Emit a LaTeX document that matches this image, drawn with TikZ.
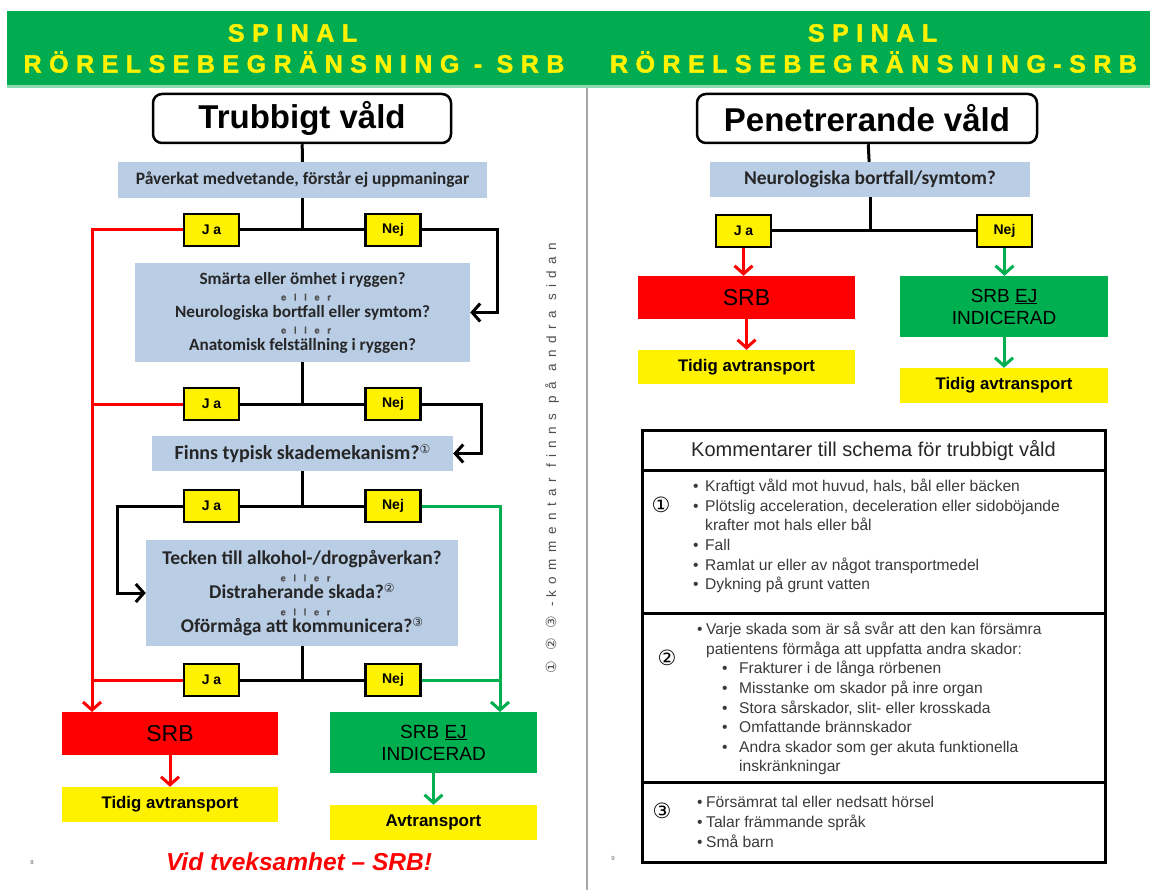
\documentclass[tikz,border=0pt]{standalone}
\usepackage{fontspec}
\setmainfont{Liberation Sans}
\newfontfamily\calf{Carlito}
\newfontfamily\djf{DejaVu Sans}
\newfontfamily\sidef[LetterSpace=48]{Liberation Sans}
\usetikzlibrary{arrows.meta}
\definecolor{hdrgreen}{HTML}{00AC4F}
\definecolor{okgreen}{HTML}{00B050}
\definecolor{qblue}{HTML}{B9CDE5}
\definecolor{txtgray}{HTML}{3A3A3A}
\definecolor{sepgray}{HTML}{A6A6A6}
\newcommand\hdrfont{\bfseries\addfontfeatures{LetterSpace=30,FakeBold=1.6}}
\newcommand\eller{{\fontspec{Liberation Sans}\bfseries\addfontfeatures{LetterSpace=80,FakeBold=0.8}\fontsize{9.5}{9.5}\selectfont\color{black!70}\hspace*{7pt}eller}}
\newcommand\bla{\makebox[12pt][l]{•}}
\newcommand\blb{\makebox[9pt][l]{•}}
\newcommand\blc{\hspace*{25pt}\makebox[17pt][l]{•}}
\begin{document}
\begin{tikzpicture}[x=1pt,y=-1pt,
  hdrtext/.style={text=yellow, inner sep=0pt, font=\fontsize{25}{28}\selectfont\hdrfont},
  qbox/.style={fill=qblue, inner sep=0pt, align=center, text=black!85},
  yn/.style={fill=yellow, draw=black, line width=2.5pt, minimum width=55pt, minimum height=32pt, inner sep=0pt, font=\bfseries\fontsize{14}{16}\selectfont},
  titlebox/.style={draw=black, line width=2.5pt, rounded corners=9pt, fill=white, inner sep=0pt, font=\bfseries\fontsize{33}{36}\selectfont},
  resbox/.style={inner sep=0pt, align=center},
  conn/.style={line width=3pt, black},
  rconn/.style={line width=3pt, red},
  gconn/.style={line width=3pt, okgreen},
  arrowend/.style={-{Straight Barb[length=8pt,width=18pt]}},
  rowtxt/.style={inner sep=0pt, align=left, text=txtgray, font=\fontsize{15.6}{19.6}\selectfont},
  circ/.style={inner sep=0pt, font=\djf\fontsize{21}{21}\selectfont}
]
\useasboundingbox (0,0) rectangle (1150,890);
% header band
\fill[hdrgreen] (7,11) rectangle (1150,85);
\fill[hdrgreen!45] (7,85) rectangle (1150,88);
\node[hdrtext] (hl1) at (292.5,33) {SPINAL};
\node[hdrtext] (hl2) at (294,62) {RÖRELSEBEGRÄNSNING - SRB};
\node[hdrtext] (hr1) at (872.5,33) {SPINAL};
\node[hdrtext] (hr2) at (873.5,62) {RÖRELSEBEGRÄNSNING-SRB};
% page separator
\draw[sepgray, line width=2pt] (587,88) -- (587,890);

% ---------- left panel ----------
\node[titlebox, minimum width=298pt, minimum height=49pt] (trub) at (302,118.5) {Trubbigt våld};
\node[qbox, minimum width=369pt, minimum height=36pt, font=\calf\bfseries\fontsize{17.5}{19}\selectfont] (q1) at (302.5,180) {Påverkat medvetande, förstår ej uppmaningar};
\node[yn] (ja1) at (211.5,230) {J a};
\node[yn] (nej1) at (393,230) {Nej};
\node[qbox, minimum width=335pt, minimum height=99pt, font=\calf\bfseries\fontsize{17.2}{16.5}\selectfont] (q2) at (302.5,312.5) {Smärta eller ömhet i ryggen?\\ \eller\\ Neurologiska bortfall eller symtom?\\ \eller\\ Anatomisk felställning i ryggen?};
\node[yn] (ja2) at (211.5,404) {J a};
\node[yn] (nej2) at (393,404) {Nej};
\node[qbox, minimum width=301pt, minimum height=35pt, font=\calf\bfseries\fontsize{20}{22}\selectfont] (q3) at (302.5,453.5) {Finns typisk skademekanism?\raisebox{6pt}{\djf\mdseries\fontsize{12}{12}\selectfont ①}};
\node[yn] (ja3) at (211.5,506) {J a};
\node[yn] (nej3) at (393,506) {Nej};
\node[qbox, minimum width=312pt, minimum height=106pt, font=\calf\bfseries\fontsize{19.5}{17}\selectfont] (q4) at (302,593) {Tecken till alkohol-/drogpåverkan?\\ \eller\\ Distraherande skada?\raisebox{6pt}{\djf\mdseries\fontsize{12}{12}\selectfont ②}\\ \eller\\ Oförmåga att kommunicera?\raisebox{6pt}{\djf\mdseries\fontsize{12}{12}\selectfont ③}};
\node[yn] (ja4) at (211.5,680) {J a};
\node[yn] (nej4) at (393,680) {Nej};
\node[resbox, fill=red, minimum width=216pt, minimum height=43pt, font=\fontsize{23}{25}\selectfont] (srbL) at (170,733.5) {SRB};
\node[resbox, fill=yellow, minimum width=216pt, minimum height=35pt, font=\bfseries\fontsize{16.8}{18}\selectfont] (tidL) at (170,804.5) {Tidig avtransport};
\node[resbox, fill=okgreen, minimum width=207pt, minimum height=61pt, font=\fontsize{19}{22}\selectfont] (ejL) at (433.5,742.5) {SRB \underline{EJ}\\INDICERAD};
\node[resbox, fill=yellow, minimum width=207pt, minimum height=35pt, font=\bfseries\fontsize{17}{18}\selectfont] (avtL) at (433.5,822.5) {Avtransport};
\node[text=red, inner sep=0pt, font=\bfseries\itshape\fontsize{24.5}{26}\selectfont] (tvek) at (299,862) {Vid tveksamhet – SRB!};
\node[inner sep=0pt, text=black!60, font=\fontsize{6}{6}\selectfont] (pg8) at (32,862) {8};
\node[rotate=90, inner sep=0pt, text=black!70, font=\sidef\fontsize{13.5}{13.5}\selectfont] (side) at (552,458) {{\djf\fontsize{14}{14}\selectfont ①}\hspace{10pt}{\djf\fontsize{14}{14}\selectfont ②}\hspace{10pt}{\djf\fontsize{14}{14}\selectfont ③}\hspace{9pt}-\hspace{5pt}kommentar finns på andra sidan};

\coordinate (rdrop) at (92,712);
\coordinate (gdrop) at (500,712);
\draw[conn] (trub) -- (q1);
\draw[conn] (q1.south) -- (q1.south |- ja1.east);
\draw[conn] (ja1.east) -- (nej1.west);
\draw[rconn, arrowend] (ja1.west) -| (rdrop);
\draw[conn, arrowend] (nej1.east) -- ++(76,0) |- (q2.east);
\draw[conn] (q2.south) -- (q2.south |- ja2.east);
\draw[conn] (ja2.east) -- (nej2.west);
\draw[rconn] (ja2.west) -- (ja2.west -| rdrop);
\draw[conn, arrowend] (nej2.east) -- ++(60,0) |- (q3.east);
\draw[conn] (q3.south) -- (q3.south |- ja3.east);
\draw[conn] (ja3.east) -- (nej3.west);
\draw[conn, arrowend] (ja3.west) -- ++(-65,0) |- (q4.west);
\draw[gconn, arrowend] (nej3.east) -| (gdrop);
\draw[conn] (q4.south) -- (q4.south |- ja4.east);
\draw[conn] (ja4.east) -- (nej4.west);
\draw[rconn] (ja4.west) -- (ja4.west -| rdrop);
\draw[gconn] (nej4.east) -- (nej4.east -| gdrop);
\draw[rconn, arrowend] (srbL.south) -- (tidL.north);
\draw[gconn, arrowend] (ejL.south) -- (avtL.north);

% ---------- right panel ----------
\node[titlebox, minimum width=340pt, minimum height=49pt] (pen) at (867,118.5) {Penetrerande våld};
\node[qbox, minimum width=320pt, minimum height=35pt, font=\calf\bfseries\fontsize{19.5}{21}\selectfont] (rq) at (870,179.5) {Neurologiska bortfall/symtom?};
\node[yn] (rja) at (743.5,231) {J a};
\node[yn] (rnej) at (1004.5,231) {Nej};
\node[resbox, fill=red, minimum width=217pt, minimum height=43pt, font=\fontsize{23}{25}\selectfont] (rsrb) at (746.5,297.5) {SRB};
\node[resbox, fill=yellow, minimum width=217pt, minimum height=34pt, font=\bfseries\fontsize{16.8}{18}\selectfont] (rtid1) at (746.5,367) {Tidig avtransport};
\node[resbox, fill=okgreen, minimum width=208pt, minimum height=61pt, font=\fontsize{19}{22}\selectfont] (rej) at (1004,306.5) {SRB \underline{EJ}\\INDICERAD};
\node[resbox, fill=yellow, minimum width=208pt, minimum height=35pt, font=\bfseries\fontsize{16.8}{18}\selectfont] (rtid2) at (1004,385.5) {Tidig avtransport};
\draw[conn] (pen) -- (rq);
\draw[conn] (rq.south) -- (rq.south |- rja.east);
\draw[conn] (rja.east) -- (rnej.west);
\draw[rconn, arrowend] (rja.south) -- (rja.south |- rsrb.north);
\draw[gconn, arrowend] (rnej.south) -- (rnej.south |- rej.north);
\draw[rconn, arrowend] (rsrb.south) -- (rtid1.north);
\draw[gconn, arrowend] (rej.south) -- (rtid2.north);

% comment table
\node[draw, line width=3pt, minimum width=463pt, minimum height=432pt, inner sep=0pt] (tbl) at (873.5,646) {};
\coordinate (r1) at (0,470);
\coordinate (r2) at (0,613);
\coordinate (r3) at (0,782);
\draw[line width=3pt] (tbl.west |- r1) -- (tbl.east |- r1);
\draw[line width=3pt] (tbl.west |- r2) -- (tbl.east |- r2);
\draw[line width=3pt] (tbl.west |- r3) -- (tbl.east |- r3);
\node[inner sep=0pt, text=black!85, font=\fontsize{20}{22}\selectfont] (thead) at (873.5,451) {Kommentarer till schema för trubbigt våld};
\node[circ] (c1) at (661,505) {①};
\node[circ] (c2) at (667,658) {②};
\node[circ] (c3) at (662,811) {③};
\node[rowtxt, anchor=north west] (row1) at (693,479) {\bla Kraftigt våld mot huvud, hals, bål eller bäcken\\ \bla Plötslig acceleration, deceleration eller sidoböjande\\ \hspace*{12pt}krafter mot hals eller bål\\ \bla Fall\\ \bla Ramlat ur eller av något transportmedel\\ \bla Dykning på grunt vatten};
\node[rowtxt, anchor=north west] (row2) at (697,622) {\blb Varje skada som är så svår att den kan försämra\\ \hspace*{9pt}patientens förmåga att uppfatta andra skador:\\ \blc Frakturer i de långa rörbenen\\ \blc Misstanke om skador på inre organ\\ \blc Stora sårskador, slit- eller krosskada\\ \blc Omfattande brännskador\\ \blc Andra skador som ger akuta funktionella\\ \hspace*{42pt}inskränkningar};
\node[rowtxt, anchor=north west, font=\fontsize{15.6}{20}\selectfont] (row3) at (697,796) {\blb Försämrat tal eller nedsatt hörsel\\ \blb Talar främmande språk\\ \blb Små barn};
\node[inner sep=0pt, text=black!60, font=\fontsize{6}{6}\selectfont] (pg9) at (613,858) {9};
\end{tikzpicture}
\end{document}
